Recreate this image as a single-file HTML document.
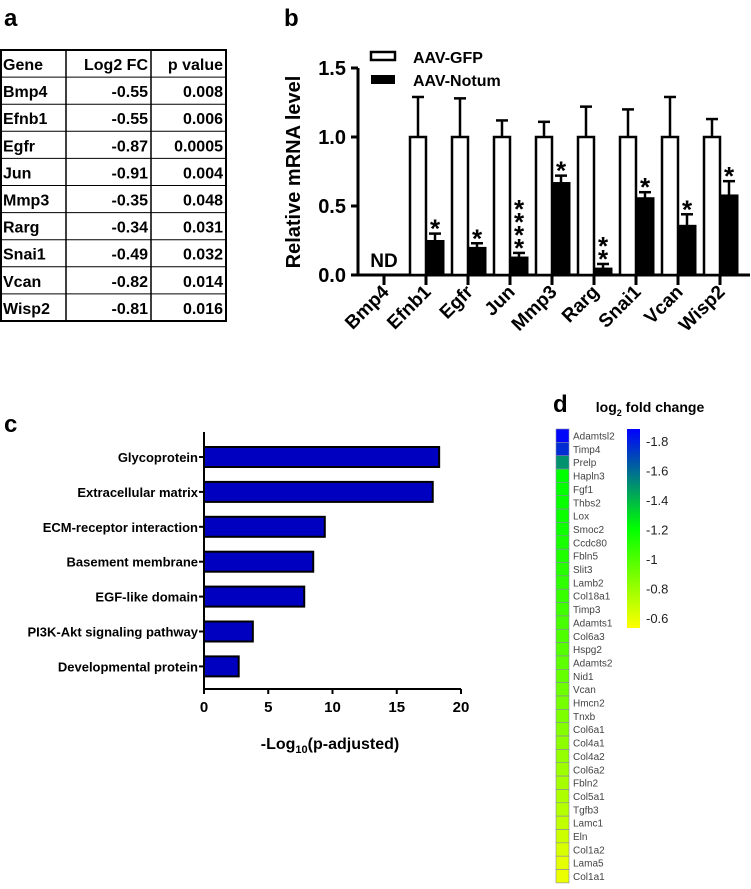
<!DOCTYPE html>
<html><head><meta charset="utf-8"><style>
html,body{margin:0;padding:0;background:#fff;}
svg{display:block;font-family:"Liberation Sans",sans-serif;}
</style></head><body>
<svg id="fig" width="751" height="889" viewBox="0 0 751 889" xmlns="http://www.w3.org/2000/svg">
<text x="4" y="26" font-size="24" font-weight="bold">a</text>
<text x="284" y="26" font-size="24" font-weight="bold">b</text>
<text x="4" y="432" font-size="24" font-weight="bold">c</text>
<text x="553" y="412" font-size="24" font-weight="bold">d</text>
<g id="table"></g>
<g id="pb"></g>
<g id="pc"></g>
<g id="pd"></g>
</svg>
<script>
// ---- Panel a data
const tblGenes=["Bmp4","Efnb1","Egfr","Jun","Mmp3","Rarg","Snai1","Vcan","Wisp2"];
const tblFC=["-0.55","-0.55","-0.87","-0.91","-0.35","-0.34","-0.49","-0.82","-0.81"];
const tblP=["0.008","0.006","0.0005","0.004","0.048","0.031","0.032","0.014","0.016"];
// ---- Panel b data
const bCats=["Bmp4","Efnb1","Egfr","Jun","Mmp3","Rarg","Snai1","Vcan","Wisp2"];
const bGFP=[null,1,1,1,1,1,1,1,1];
const bGFPerr=[null,0.29,0.28,0.12,0.11,0.22,0.20,0.29,0.13];
const bNotum=[null,0.25,0.20,0.13,0.67,0.05,0.56,0.36,0.58];
const bNotumErr=[null,0.05,0.03,0.03,0.05,0.03,0.04,0.08,0.10];
const bStars=["","*","*","****","*","**","*","*","*"];
const bTicks=[0,0.5,1.0,1.5];
// ---- Panel c data
const cTerms=["Glycoprotein","Extracellular matrix","ECM-receptor interaction","Basement membrane","EGF-like domain","PI3K-Akt signaling pathway","Developmental protein"];
const cVals=[18.3,17.8,9.4,8.5,7.8,3.8,2.7];
const cTicks=[0,5,10,15,20];
// ---- Panel d data
const dGenes=["Adamtsl2","Timp4","Prelp","Hapln3","Fgf1","Thbs2","Lox","Smoc2","Ccdc80","Fbln5","Slit3","Lamb2","Col18a1","Timp3","Adamts1","Col6a3","Hspg2","Adamts2","Nid1","Vcan","Hmcn2","Tnxb","Col6a1","Col4a1","Col4a2","Col6a2","Fbln2","Col5a1","Tgfb3","Lamc1","Eln","Col1a2","Lama5","Col1a1"];
const dVals=[-1.88,-1.78,-1.5,-1.2,-1.19,-1.18,-1.17,-1.16,-1.14,-1.12,-1.1,-1.08,-1.06,-1.04,-1.02,-1.0,-0.98,-0.96,-0.94,-0.92,-0.9,-0.88,-0.86,-0.84,-0.82,-0.8,-0.78,-0.76,-0.74,-0.71,-0.68,-0.65,-0.62,-0.6];
const dTicks=[-1.8,-1.6,-1.4,-1.2,-1,-0.8,-0.6];

const NS="http://www.w3.org/2000/svg";
function mk(p,t,a,txt){const e=document.createElementNS(NS,t);for(const k in a)e.setAttribute(k,a[k]);if(txt!==undefined)e.textContent=txt;p.appendChild(e);return e;}

// ===== Table
(function(){
 const g=document.getElementById('table');
 const x0=1,x1=66,x2=151,x3=226,y0=50,rh=27.1,n=10;
 let r=mk(g,'rect',{x:x0,y:y0,width:x3-x0,height:rh*n,fill:'none',stroke:'#000','stroke-width':2});
 
 for(let i=1;i<n;i++){mk(g,'line',{x1:x0,x2:x3,y1:y0+i*rh,y2:y0+i*rh,stroke:'#000','stroke-width':1});}
 [x1,x2].forEach(x=>mk(g,'line',{x1:x,x2:x,y1:y0,y2:y0+rh*n,stroke:'#000','stroke-width':1.5}));
 const f='font-family:"Liberation Sans",sans-serif;font-weight:bold;font-size:16px';
 function t(x,y,s,anchor,name){let e=mk(g,'text',{x:x,y:y,style:f,'text-anchor':anchor},s);}
 t(3,y0+20,'Gene','start','header-gene');t(x2-3,y0+20,'Log2 FC','end','header-log2fc');t(x3-3,y0+20,'p value','end','header-pvalue');
 tblGenes.forEach((gn,i)=>{const y=y0+(i+1)*rh+20;
  t(3,y,gn,'start','gene-cell');t(x2-3,y,tblFC[i],'end','fc-cell');t(x3-3,y,tblP[i],'end','pvalue-cell');});
})();

// ===== Panel b
(function(){
 const g=document.getElementById('pb');
 const ax=358,y0=275,k=138,xs=i=>384+i*42;const ys=v=>y0-v*k;
 mk(g,'line',{x1:ax,x2:ax,y1:ys(1.5),y2:y0,stroke:'#000','stroke-width':3});
 mk(g,'line',{x1:ax,x2:750,y1:y0,y2:y0,stroke:'#000','stroke-width':3});
 bTicks.forEach(v=>{mk(g,'line',{x1:ax-7,x2:ax,y1:ys(v),y2:ys(v),stroke:'#000','stroke-width':3});
  let e=mk(g,'text',{x:ax-12,y:ys(v)+7,'text-anchor':'end','font-size':20,'font-weight':'bold'},v.toFixed(1));
  });
 let yl=mk(g,'text',{x:0,y:0,transform:'translate(300,172) rotate(-90)','text-anchor':'middle','font-size':20,'font-weight':'bold'},'Relative mRNA level');
 
 bCats.forEach((c,i)=>{const cx=xs(i);
  mk(g,'line',{x1:cx,x2:cx,y1:y0,y2:y0+10,stroke:'#000','stroke-width':3});
  let lab=mk(g,'text',{x:0,y:0,transform:`translate(${cx+6},${y0+18}) rotate(-45)`,'text-anchor':'end','font-size':19,'font-weight':'bold'},c);
  
  if(bGFP[i]===null){let nd=mk(g,'text',{x:cx,y:y0-8,'text-anchor':'middle','font-size':19,'font-weight':'bold'},'ND');return;}
  const w=16;
  mk(g,'line',{x1:cx-8,x2:cx-8,y1:ys(bGFP[i]),y2:ys(bGFP[i]+bGFPerr[i]),stroke:'#000','stroke-width':2.5});
  mk(g,'line',{x1:cx-14,x2:cx-2,y1:ys(bGFP[i]+bGFPerr[i]),y2:ys(bGFP[i]+bGFPerr[i]),stroke:'#000','stroke-width':2.5});
  let b1=mk(g,'rect',{x:cx-w,y:ys(bGFP[i]),width:w,height:bGFP[i]*k,fill:'#fff',stroke:'#000','stroke-width':2.5});
  
  mk(g,'line',{x1:cx+9,x2:cx+9,y1:ys(bNotum[i]),y2:ys(bNotum[i]+bNotumErr[i]),stroke:'#000','stroke-width':2.5});
  mk(g,'line',{x1:cx+3,x2:cx+15,y1:ys(bNotum[i]+bNotumErr[i]),y2:ys(bNotum[i]+bNotumErr[i]),stroke:'#000','stroke-width':2.5});
  let b2=mk(g,'rect',{x:cx,y:ys(bNotum[i]),width:w+2,height:bNotum[i]*k,fill:'#000',stroke:'#000','stroke-width':1});
  
  const s=bStars[i];const top=ys(bNotum[i]+bNotumErr[i]);
  for(let j=0;j<s.length;j++){let st=mk(g,'text',{x:cx+9,y:top+4-j*13,'text-anchor':'middle','font-size':26,'font-weight':'bold'},'*');
   }
 });
 let l1=mk(g,'rect',{x:371,y:52,width:24,height:8,fill:'#fff',stroke:'#000','stroke-width':2.5});
 let l2=mk(g,'rect',{x:371,y:75,width:24,height:9,fill:'#000'});
 let t1=mk(g,'text',{x:413,y:63,'font-size':16,'font-weight':'bold'},'AAV-GFP');
 let t2=mk(g,'text',{x:413,y:86,'font-size':16,'font-weight':'bold'},'AAV-Notum');
})();

// ===== Panel c
(function(){
 const g=document.getElementById('pc');
 const ax=204,y0=689,xs=v=>ax+v*12.85,yc=i=>457+i*34.9;
 mk(g,'line',{x1:ax,x2:ax,y1:432,y2:y0,stroke:'#000','stroke-width':2});
 mk(g,'line',{x1:ax,x2:xs(20),y1:y0,y2:y0,stroke:'#000','stroke-width':2});
 cTicks.forEach(v=>{mk(g,'line',{x1:xs(v),x2:xs(v),y1:y0,y2:y0+5,stroke:'#000','stroke-width':2});
  let e=mk(g,'text',{x:xs(v),y:y0+23,'text-anchor':'middle','font-size':15,'font-weight':'bold'},v);
  });
 let xt=mk(g,'text',{x:330,y:749,'text-anchor':'middle','font-size':16,'font-weight':'bold'});
 
 xt.innerHTML='-Log<tspan font-size="11" dy="4">10</tspan><tspan dy="-4">(p-adjusted)</tspan>';
 cTerms.forEach((t,i)=>{const y=yc(i);
  mk(g,'line',{x1:ax-5,x2:ax,y1:y,y2:y,stroke:'#000','stroke-width':2});
  let l=mk(g,'text',{x:ax-6,y:y+5,'text-anchor':'end','font-size':13,'font-weight':'bold'},t);
  
  let b=mk(g,'rect',{x:ax,y:y-10,width:xs(cVals[i])-ax,height:20,fill:'#0000c0',stroke:'#000','stroke-width':2});
  });
})();

// ===== Panel d
(function(){
 const g=document.getElementById('pd');
 function col(v){
  let r,gg,b;
  if(v<=-1.2){const t=Math.min(1,Math.max(0,(v+1.9)/0.7));r=0;gg=Math.round(255*t);b=Math.round(255*(1-t));}
  else{const t=Math.min(1,Math.max(0,(v+1.2)/0.65));r=Math.round(255*t);gg=255;b=0;}
  return `rgb(${r},${gg},${b})`;}
 const x=556,y0=429,h=13.35;
 dGenes.forEach((gn,i)=>{
  let c=mk(g,'rect',{x:x,y:y0+i*h,width:13,height:h,fill:col(dVals[i]),stroke:'#8888aa','stroke-width':0.6});
  
  let t=mk(g,'text',{x:573,y:y0+i*h+10.5,'font-size':10,fill:'#444'},gn);
  });
 const defs=mk(g,'defs',{});const lg=mk(defs,'linearGradient',{id:'cb',x1:0,y1:0,x2:0,y2:1});
 mk(lg,'stop',{offset:'0',['stop-color']:'rgb(0,0,255)'});
 mk(lg,'stop',{offset:'0.5',['stop-color']:'rgb(0,255,0)'});
 mk(lg,'stop',{offset:'1',['stop-color']:'rgb(255,255,0)'});
 let cb=mk(g,'rect',{x:627,y:429,width:13,height:199,fill:'url(#cb)'});
 
 const ys=v=>441+(v+1.8)/1.2*177;
 dTicks.forEach(v=>{let t=mk(g,'text',{x:646,y:ys(v)+5,'font-size':13,fill:'#222'},String(v));
  });
 let tt=mk(g,'text',{x:650,y:412,'text-anchor':'middle','font-size':14,'font-weight':'bold'});
 
 tt.innerHTML='log<tspan font-size="9" dy="4">2</tspan><tspan dy="-4"> fold change</tspan>';
})();
</script>
</body></html>
